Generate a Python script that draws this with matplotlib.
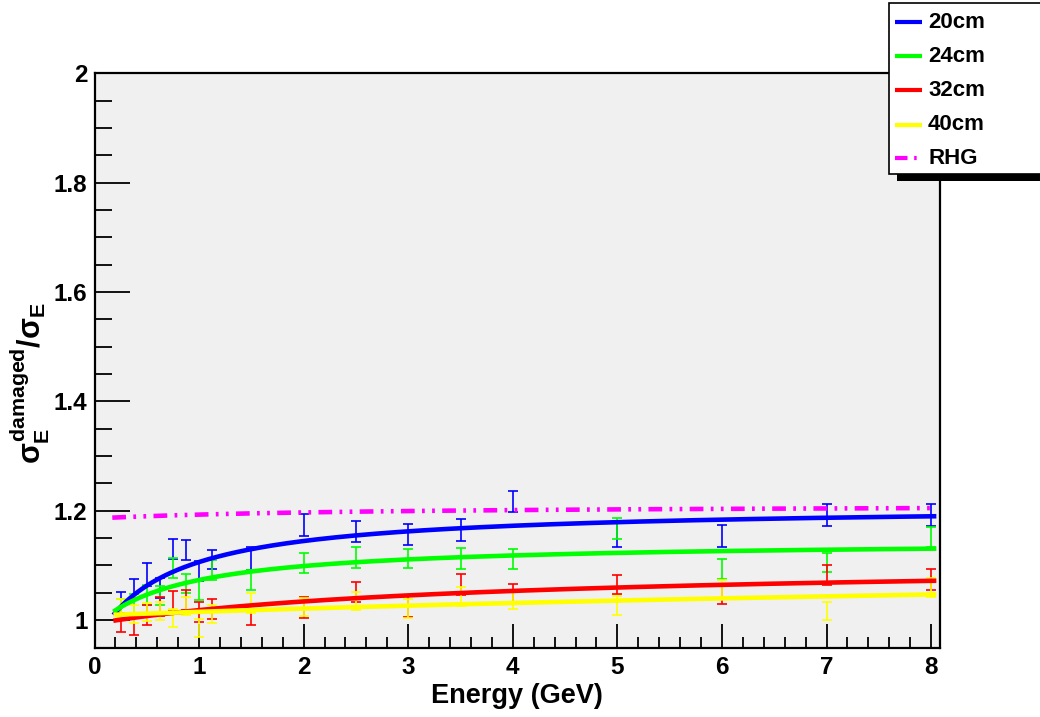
import numpy as np
import matplotlib
matplotlib.use("Agg")
import matplotlib.pyplot as plt
from matplotlib.patches import Rectangle
from matplotlib.lines import Line2D

plt.rcParams['font.family'] = ['Liberation Sans', 'DejaVu Sans']
plt.rcParams['font.weight'] = 'bold'
plt.rcParams['mathtext.fontset'] = 'custom'
plt.rcParams['mathtext.rm'] = 'Liberation Sans:bold'
plt.rcParams['mathtext.bf'] = 'Liberation Sans:bold'
plt.rcParams['mathtext.it'] = 'Liberation Sans:bold'

# ---------------- data ----------------
energy = [0.25, 0.375, 0.5, 0.625, 0.75, 0.875, 1.0, 1.125, 1.5,
          2.0, 2.5, 3.0, 3.5, 4.0, 5.0, 6.0, 7.0, 8.0]

ratio_20cm = [1.031, 1.057, 1.083, 1.059, 1.130, 1.128, 1.090, 1.111, 1.113,
              1.174, 1.162, 1.156, 1.165, 1.217, 1.158, 1.154, 1.193, 1.193]
err_20cm = [0.021, 0.018, 0.021, 0.018, 0.018, 0.018, 0.019, 0.018, 0.021,
            0.020, 0.019, 0.019, 0.020, 0.020, 0.024, 0.020, 0.020, 0.020]

ratio_24cm = [1.020, 1.030, 1.046, 1.045, 1.095, 1.067, 1.055, 1.092, 1.073,
              1.104, 1.115, 1.113, 1.113, 1.112, 1.168, 1.094, 1.105, 1.152]
err_24cm = [0.018, 0.018, 0.018, 0.018, 0.018, 0.018, 0.018, 0.018, 0.018,
            0.018, 0.019, 0.018, 0.019, 0.018, 0.019, 0.018, 0.017, 0.019]

ratio_32cm = [0.996, 0.990, 1.010, 1.025, 1.035, 1.037, 1.015, 1.021, 1.010,
              1.023, 1.052, 1.025, 1.065, 1.049, 1.065, 1.047, 1.083, 1.074]
err_32cm = [0.018, 0.018, 0.018, 0.018, 0.018, 0.018, 0.018, 0.018, 0.018,
            0.019, 0.018, 0.019, 0.019, 0.018, 0.018, 0.018, 0.018, 0.019]

ratio_40cm = [1.021, 1.011, 1.015, 1.017, 1.004, 1.026, 0.986, 1.011, 1.031,
              1.024, 1.035, 1.021, 1.043, 1.037, 1.027, 1.057, 1.017, 1.060]
err_40cm = [0.017, 0.017, 0.016, 0.017, 0.017, 0.016, 0.016, 0.017, 0.018,
            0.017, 0.017, 0.017, 0.018, 0.017, 0.017, 0.017, 0.017, 0.017]

# fitted curves: values at these energies
curve_energy = [0.2, 0.5, 1.0, 2.0, 4.0, 8.0]
curve_20cm = [1.010, 1.068, 1.104, 1.146, 1.172, 1.190]
curve_24cm = [1.010, 1.052, 1.076, 1.099, 1.117, 1.131]
curve_32cm = [0.999, 1.008, 1.018, 1.035, 1.053, 1.072]
curve_40cm = [1.010, 1.012, 1.015, 1.022, 1.031, 1.047]
curve_rhg = [1.187, 1.190, 1.194, 1.197, 1.201, 1.205]

labels = ['20cm', '24cm', '32cm', '40cm']
colors = ['#0000ff', '#00ff00', '#ff0000', '#ffff00']
rhg_color = '#ff00ff'

# ---------------- figure ----------------
W, H = 1040, 717
fig = plt.figure(figsize=(W / 100, H / 100), dpi=100)
fig.patch.set_facecolor('white')
ax = fig.add_axes([94.5 / W, 1 - 647.5 / H, (940 - 94.5) / W, (647.5 - 73.3) / H])
ax.set_facecolor('#f0f0f0')


def fit_curve(e, r):
    """Resolution-ratio model R^2 = (a + b E) / (1 + c E), least squares."""
    e = np.asarray(e, float)
    r2 = np.asarray(r, float) ** 2
    A = np.column_stack([np.ones_like(e), e, -e * r2])
    a, b, c = np.linalg.lstsq(A, r2, rcond=None)[0]
    return lambda x: np.sqrt((a + b * x) / (1 + c * x))


series = [(ratio_20cm, err_20cm, curve_20cm), (ratio_24cm, err_24cm, curve_24cm),
          (ratio_32cm, err_32cm, curve_32cm), (ratio_40cm, err_40cm, curve_40cm)]

xs = np.linspace(0.18, 8.05, 400)
for (vals, errs, _), col in zip(series, colors):
    ax.errorbar(energy, vals, yerr=errs, fmt='none', ecolor=col, elinewidth=1.2,
                capsize=3.5, capthick=1.2, zorder=2)
for (vals, errs, cv), col in zip(series, colors):
    f = fit_curve(curve_energy, cv)
    ax.plot(xs, f(xs), color=col, lw=3.3, zorder=3, solid_capstyle='butt')

frhg = fit_curve(curve_energy, curve_rhg)
xr = np.linspace(0.17, 8.05, 400)
ax.plot(xr, frhg(xr), color=rhg_color, lw=3.3, zorder=3,
        dashes=(3.0, 1.6, 0.6, 1.6, 0.6, 1.6))

ax.set_xlim(0, 8.085)
ax.set_ylim(0.95, 2.0)
ax.set_xticks(np.arange(0, 9, 1))
ax.set_xticks(np.arange(0, 8.09, 0.2), minor=True)
ax.set_yticks([1.0, 1.2, 1.4, 1.6, 1.8, 2.0])
ax.set_yticks(np.arange(0.95, 2.001, 0.05), minor=True)
ax.set_xticklabels(['0', '1', '2', '3', '4', '5', '6', '7', '8'])
ax.set_yticklabels(['1', '1.2', '1.4', '1.6', '1.8', '2'])
ax.tick_params(axis='both', which='both', direction='in', top=False, right=False,
               labelsize=17.5, width=1.3, colors='black')
ax.tick_params(axis='x', which='major', length=17, pad=6)
ax.tick_params(axis='x', which='minor', length=8)
ax.tick_params(axis='y', which='major', length=25, pad=5)
ax.tick_params(axis='y', which='minor', length=12.5)
for lab in ax.get_xticklabels() + ax.get_yticklabels():
    lab.set_fontweight('bold')
for s in ax.spines.values():
    s.set_linewidth(1.6)
    s.set_color('black')

ax.set_xlabel('Energy (GeV)', fontsize=19.5, fontweight='bold', labelpad=3)
ax.set_ylabel(r'$\sigma_{\mathbf{E}}^{\mathbf{damaged}}/\sigma_{\mathbf{E}}$',
              fontsize=22)
ax.yaxis.set_label_coords(-0.050, 0.46)

# ---------------- legend (ROOT-style box with shadow) ----------------
def fx(px):
    return px / W


def fy(py):
    return 1 - py / H


fig.add_artist(Rectangle((fx(897), fy(180.5)), fx(W + 20) - fx(897), fy(173) - fy(180.5),
                         transform=fig.transFigure, facecolor='black', edgecolor='none'))
fig.add_artist(Rectangle((fx(888.5), fy(173.5)), fx(W + 20) - fx(888.5), fy(2.5) - fy(173.5),
                         transform=fig.transFigure, facecolor='white', edgecolor='black', lw=1.2))
leg_rows = [22, 56, 90, 125, 158]
leg_labels = labels + ['RHG']
leg_colors = colors + [rhg_color]
for i, (py, lab, col) in enumerate(zip(leg_rows, leg_labels, leg_colors)):
    ln = Line2D([fx(895), fx(922)], [fy(py), fy(py)], transform=fig.transFigure,
                color=col, lw=3.0, solid_capstyle='butt')
    if lab == 'RHG':
        ln.set_dashes((3.0, 1.6, 0.6, 1.6, 0.6, 1.6))
    fig.add_artist(ln)
    fig.text(fx(928), fy(py), lab, fontsize=16, fontweight='bold',
             va='center', ha='left', color='black')

fig.savefig('out.png', dpi=100, facecolor='white')
